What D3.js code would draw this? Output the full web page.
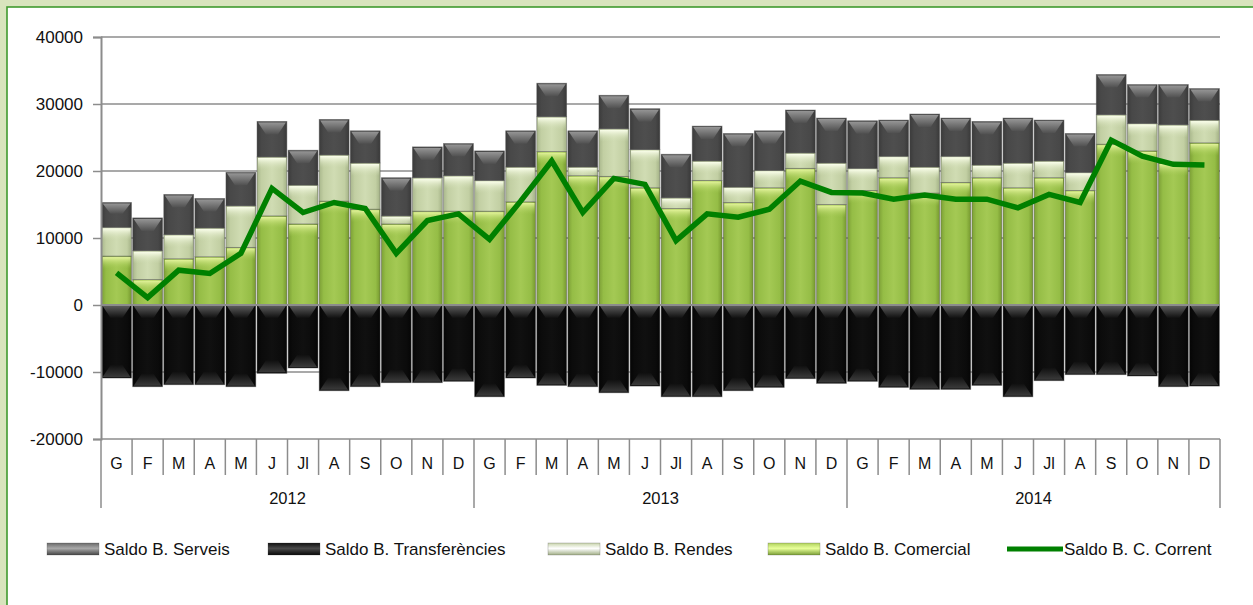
<!DOCTYPE html>
<html>
<head>
<meta charset="utf-8">
<script src="https://cdn.jsdelivr.net/npm/d3@7"></script>
<style>
  body { margin: 0; background: #fff; }
  svg { display: block; font-family: "Liberation Sans", Arial, sans-serif; }
</style>
</head>
<body>
<svg width="1253" height="605"></svg>
<script>
// --- data ---------------------------------------------------------------
const years = ["2012", "2013", "2014"];
const months = ["G", "F", "M", "A", "M", "J", "Jl", "A", "S", "O", "N", "D"];

const comercial = [
  7300, 3800, 6900, 7200, 8600, 13300, 12100, 15500, 14300, 12100, 14000, 14000,
  14000, 15400, 22900, 19300, 19200, 17500, 14400, 18600, 15300, 17500, 20400, 15000,
  17100, 19000, 16700, 18300, 19000, 17500, 19000, 17100, 24000, 23000, 21200, 24200
];
const rendes = [
  4300, 4300, 3600, 4300, 6200, 8800, 5800, 6900, 6900, 1200, 5000, 5300,
  4600, 5200, 5200, 1300, 7100, 5700, 1600, 2900, 2300, 2600, 2300, 6200,
  3300, 3200, 3900, 3900, 1900, 3700, 2500, 2700, 4400, 4100, 5700, 3400
];
const serveis = [
  3700, 4900, 6000, 4400, 5000, 5300, 5200, 5300, 4800, 5700, 4600, 4800,
  4400, 5400, 5000, 5400, 5000, 6100, 6500, 5200, 8000, 5900, 6400, 6700,
  7100, 5400, 7900, 5700, 6500, 6700, 6100, 5800, 6000, 5800, 6000, 4700
];
const transferencies = [
  -10900, -12200, -11900, -11900, -12200, -10200, -9400, -12800, -12200, -11600, -11600, -11400,
  -13700, -10900, -12000, -12200, -13100, -12100, -13700, -13700, -12800, -12300, -11000, -11700,
  -11400, -12300, -12600, -12600, -12000, -13700, -11300, -10400, -10400, -10600, -12200, -12100
];
const corrent = [
  4800, 1100, 5200, 4700, 7700, 17400, 13800, 15300, 14400, 7700, 12600, 13600,
  9800, 15500, 21500, 13800, 18900, 18000, 9600, 13600, 13100, 14300, 18500, 16800,
  16700, 15800, 16400, 15800, 15800, 14500, 16500, 15300, 24600, 22200, 21000, 20900
];
const yTicks = [-20000, -10000, 0, 10000, 20000, 30000, 40000];

// --- setup --------------------------------------------------------------
const svg = d3.select("svg");
const plotLeft = 101, plotRight = 1220, plotTop = 37, plotBottom = 439;

const table = comercial.map((c, i) => ({
  i: i,
  comercial: c,
  rendes: rendes[i],
  serveis: serveis[i],
  transferencies: transferencies[i]
}));
const keys = ["comercial", "rendes", "serveis", "transferencies"];
const series = d3.stack().keys(keys).offset(d3.stackOffsetDiverging)(table);

const x = d3.scaleBand().domain(d3.range(table.length)).range([plotLeft, plotRight])
  .paddingInner(0.04).paddingOuter(0.02);
const xb = d3.scaleLinear().domain([0, table.length]).range([plotLeft, plotRight]);
const y = d3.scaleLinear().domain([-20000, 40000]).range([plotBottom, plotTop]);

// background panels
svg.append("rect").attr("width", 1253).attr("height", 605).attr("fill", "#d8e4bd");
svg.append("rect").attr("x", 7).attr("y", 7).attr("width", 1260).attr("height", 620)
  .attr("fill", "#fff").attr("stroke", "#3f9a2e").attr("stroke-width", 1.6);

// gradients
const defs = svg.append("defs");
function grad(id, stops, vertical) {
  const g = defs.append("linearGradient").attr("id", id)
    .attr("x1", 0).attr("y1", 0)
    .attr("x2", vertical ? 0 : 1).attr("y2", vertical ? 1 : 0);
  stops.forEach(s => g.append("stop").attr("offset", s[0]).attr("stop-color", s[1])
    .attr("stop-opacity", s[2] == null ? 1 : s[2]));
}
grad("g-comercial", [[0, "#7c9f36"], [0.15, "#95bd46"], [0.5, "#a4c954"], [0.85, "#95bd46"], [1, "#76982f"]]);
grad("g-rendes", [[0, "#a9b78c"], [0.15, "#c2cfa3"], [0.5, "#d0dcb3"], [0.85, "#c2cfa3"], [1, "#a3b186"]]);
grad("g-serveis", [[0, "#3b3b3b"], [0.15, "#484848"], [0.5, "#4e4e4e"], [0.85, "#484848"], [1, "#393939"]]);
grad("g-transferencies", [[0, "#050505"], [0.15, "#0b0b0b"], [0.5, "#101010"], [0.85, "#0b0b0b"], [1, "#050505"]]);
grad("h-comercial", [[0, "#e8f7a0", 0.95], [1, "#a4c954", 0]], true);
grad("h-rendes", [[0, "#fbffec", 1], [1, "#d0dcb3", 0]], true);
grad("b-dark", [[0, "#959595"], [1, "#505050"]], true);
grad("b-black", [[0, "#5a5a5a"], [1, "#101010"]], true);
grad("b-black-up", [[0, "#101010"], [1, "#3a3a3a"]], true);
// legend swatches
grad("l-serveis", [[0, "#6a6a6a"], [0.45, "#a8a8a8"], [1, "#454545"]], true);
grad("l-transferencies", [[0, "#111"], [0.45, "#4a4a4a"], [1, "#080808"]], true);
grad("l-rendes", [[0, "#c8d4ab"], [0.45, "#ffffff"], [1, "#a0ae85"]], true);
grad("l-comercial", [[0, "#b0d25c"], [0.45, "#e8ff9a"], [1, "#7a9e36"]], true);

// gridlines
svg.append("g").selectAll("line").data(yTicks).join("line")
  .attr("x1", plotLeft).attr("x2", plotRight)
  .attr("y1", d => y(d)).attr("y2", d => y(d))
  .attr("stroke", "#8c8c8c").attr("stroke-width", 1.5);

// bars
const bars = svg.append("g");
series.forEach(s => {
  const key = s.key;
  const g = bars.append("g");
  s.forEach(d => {
    const y0 = y(Math.max(d[0], d[1]));
    const y1 = y(Math.min(d[0], d[1]));
    const h = y1 - y0;
    const x0 = x(d.data.i), w = x.bandwidth();
    if (h <= 0) return;
    g.append("rect").attr("x", x0).attr("y", y0).attr("width", w).attr("height", h)
      .attr("fill", `url(#g-${key})`)
      .attr("stroke", "rgba(80,80,80,0.55)").attr("stroke-width", 0.8);
    if (key === "comercial" || key === "rendes") {
      g.append("rect").attr("x", x0 + 1).attr("y", y0 + 1).attr("width", w - 2)
        .attr("height", Math.min(12, h - 1))
        .attr("fill", `url(#h-${key})`);
    } else {
      const bh = Math.min(13, h * 0.45);
      g.append("path")
        .attr("d", `M${x0 + 1},${y0 + 1} L${x0 + w - 1},${y0 + 1} L${x0 + w * 0.7},${y0 + bh} L${x0 + w * 0.3},${y0 + bh} Z`)
        .attr("fill", key === "serveis" ? "url(#b-dark)" : "url(#b-black)");
      if (key === "transferencies") {
        g.append("path")
          .attr("d", `M${x0 + w * 0.3},${y1 - bh} L${x0 + w * 0.7},${y1 - bh} L${x0 + w - 1},${y1 - 1} L${x0 + 1},${y1 - 1} Z`)
          .attr("fill", "url(#b-black-up)");
      }
    }
  });
});

// zero line
svg.append("line").attr("x1", plotLeft).attr("x2", plotRight).attr("y1", y(0)).attr("y2", y(0))
  .attr("stroke", "#8c8c8c").attr("stroke-width", 2);

// line series
svg.append("path").datum(corrent)
  .attr("d", d3.line().x((d, i) => x(i) + x.bandwidth() / 2).y(d => y(d)))
  .attr("fill", "none").attr("stroke", "#008000").attr("stroke-width", 5.5)
  .attr("stroke-linejoin", "miter");

// y axis
const yAxis = svg.append("g").attr("transform", `translate(${plotLeft},0)`)
  .call(d3.axisLeft(y).tickValues(yTicks).tickSize(8).tickPadding(10).tickFormat(d => String(d)));
yAxis.select(".domain").attr("stroke", "#8c8c8c").attr("stroke-width", 2);
yAxis.selectAll(".tick line").attr("stroke", "#8c8c8c").attr("stroke-width", 1.5);
yAxis.selectAll(".tick text").attr("font-size", 17).attr("fill", "#111")
  .attr("font-family", "Liberation Sans, Arial, sans-serif");

// category axis (months + years)
const cat = svg.append("g");
cat.selectAll("line.m").data(d3.range(table.length + 1)).join("line")
  .attr("x1", d => xb(d)).attr("x2", d => xb(d))
  .attr("y1", plotBottom).attr("y2", d => d % 12 === 0 ? 508 : 475)
  .attr("stroke", "#8c8c8c").attr("stroke-width", 1.5);
cat.selectAll("text.m").data(table).join("text")
  .attr("x", d => x(d.i) + x.bandwidth() / 2).attr("y", 469)
  .attr("text-anchor", "middle").attr("font-size", 16).attr("fill", "#111")
  .text(d => months[d.i % 12]);
cat.selectAll("text.y").data(years).join("text")
  .attr("x", (d, i) => (xb(i * 12) + xb(i * 12 + 12)) / 2).attr("y", 504)
  .attr("text-anchor", "middle").attr("font-size", 16.5).attr("fill", "#111")
  .text(d => d);

// legend
const legendItems = [
  { name: "Saldo B. Serveis", fill: "url(#l-serveis)", x: 47 },
  { name: "Saldo B. Transferències", fill: "url(#l-transferencies)", x: 268 },
  { name: "Saldo B. Rendes", fill: "url(#l-rendes)", x: 548 },
  { name: "Saldo B. Comercial", fill: "url(#l-comercial)", x: 768 },
  { name: "Saldo B. C. Corrent", line: true, x: 1007 }
];
const legend = svg.append("g");
legendItems.forEach(it => {
  if (it.line) {
    legend.append("line").attr("x1", it.x).attr("x2", it.x + 56).attr("y1", 549).attr("y2", 549)
      .attr("stroke", "#008000").attr("stroke-width", 5);
  } else {
    legend.append("rect").attr("x", it.x).attr("y", 543).attr("width", 52).attr("height", 12)
      .attr("fill", it.fill).attr("stroke", "rgba(60,60,60,0.4)").attr("stroke-width", 0.6);
  }
  legend.append("text").attr("x", it.x + 57).attr("y", 555)
    .attr("font-size", 17).attr("fill", "#111").text(it.name);
});
</script>
</body>
</html>
